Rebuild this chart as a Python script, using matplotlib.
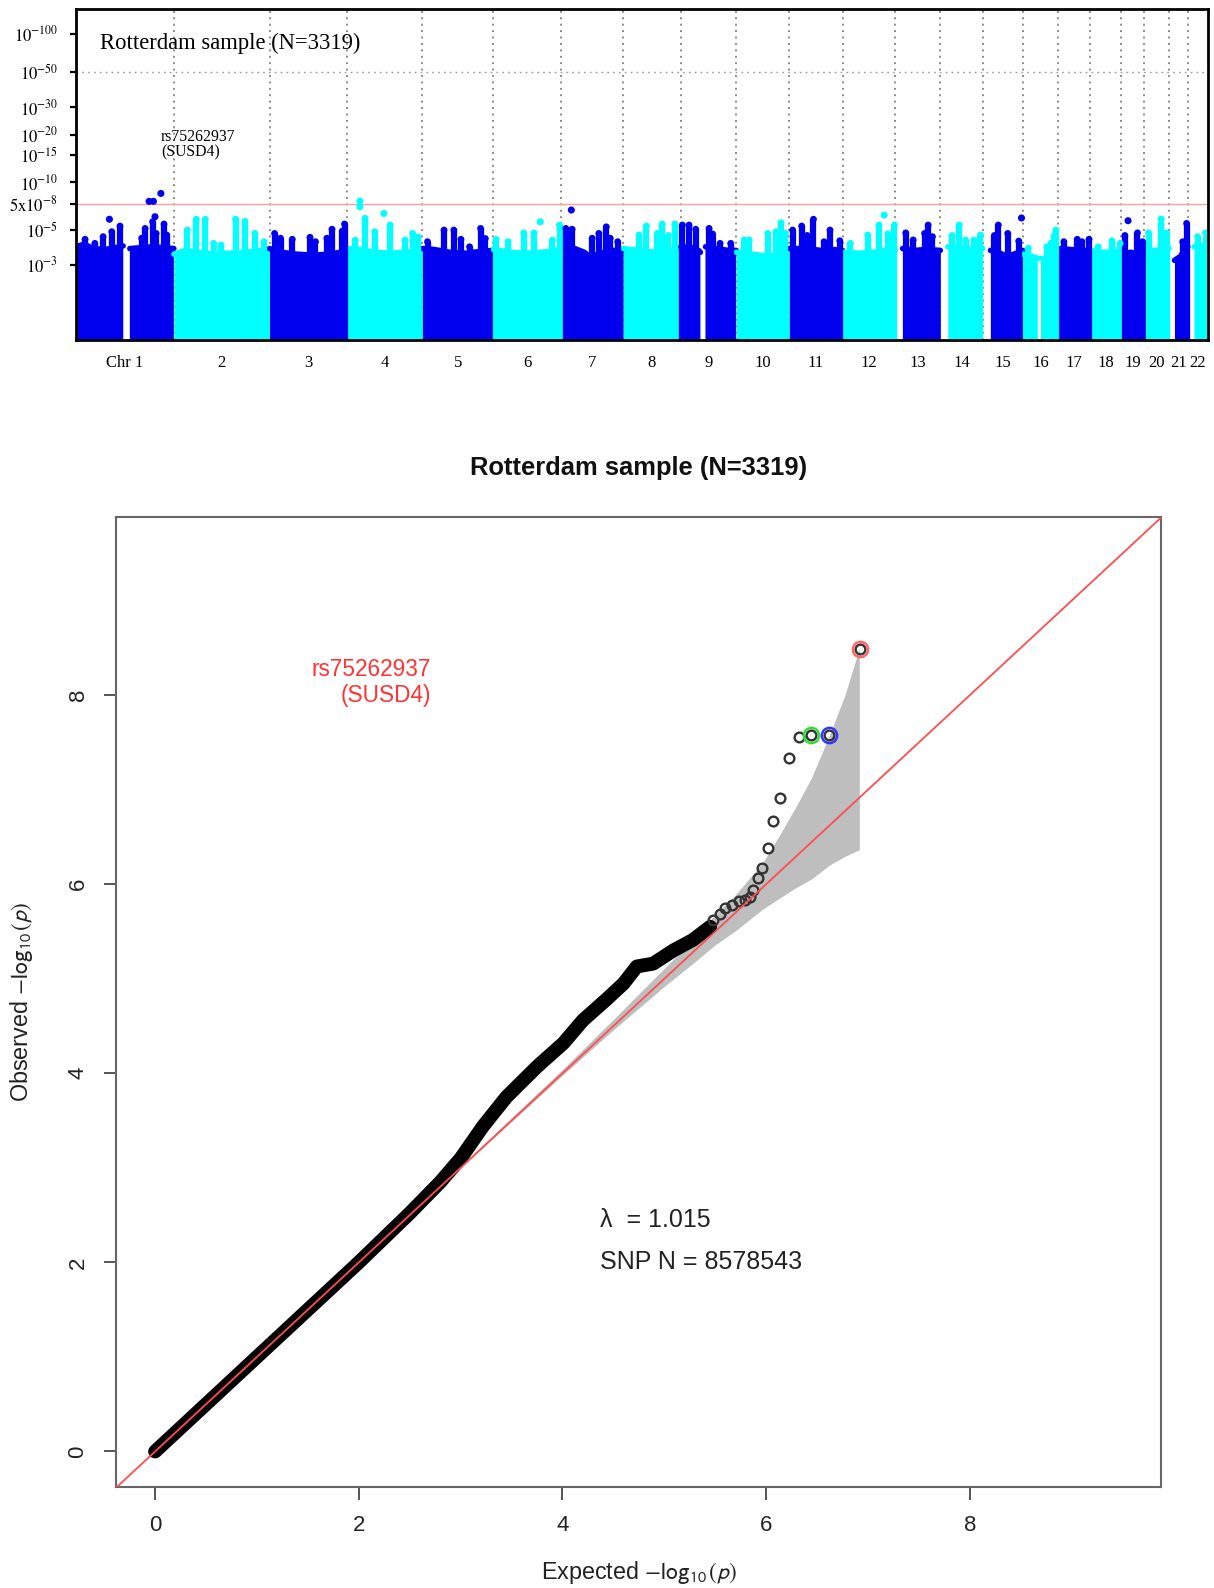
import numpy as np
import matplotlib
matplotlib.use("Agg")
import matplotlib.pyplot as plt

# ---- Manhattan data ----
# chromosome lengths in Mb (hg19)
CHR_LEN = [249.25, 243.2, 198.0, 191.15, 180.9, 171.1, 159.1, 146.4, 141.2, 135.5,
           135.0, 133.85, 115.2, 107.35, 102.5, 90.35, 81.2, 78.1, 59.1, 63.0, 48.1, 51.3]
CHR_NAMES = ["Chr 1"] + [str(i) for i in range(2, 23)]

# upper edge of the dense part of each chromosome (Mb, -log10 p); nan = no SNPs
nan = np.nan
body_pos = [
    [0, 20, 45, 75, 100, 120, 128, 137, 165, 195, 225, 249],
    [0, 30, 60, 100, 140, 180, 215, 243],
    [0, 30, 70, 110, 150, 180, 198],
    [0, 30, 70, 110, 150, 191],
    [0, 30, 70, 110, 150, 181],
    [0, 40, 80, 120, 171],
    [0, 30, 60, 75, 100, 130, 159],
    [0, 40, 80, 110, 146],
    [0, 30, 45, 50, 56, 63, 90, 120, 141],
    [0, 40, 80, 110, 135],
    [0, 40, 80, 110, 135],
    [0, 40, 80, 110, 134],
    [19, 50, 80, 115],
    [19, 50, 80, 107],
    [20, 40, 60, 80, 102],
    [0, 20, 38, 42, 46, 60, 75, 90],
    [0, 30, 60, 81],
    [0, 30, 60, 78],
    [0, 25, 45, 59],
    [0, 30, 50, 63],
    [14, 30, 40, 48],
    [16, 30, 45, 51],
]
body_top = [
    [3.9, 4.05, 3.8, 3.75, 3.85, 3.95, nan, 3.8, 3.85, 3.9, 3.85, 3.8],
    [3.5, 3.7, 3.6, 3.5, 3.55, 3.6, 3.7, 3.6],
    [3.8, 3.6, 3.5, 3.45, 3.5, 3.6, 3.7],
    [3.8, 3.75, 3.6, 3.55, 3.6, 3.7],
    [3.8, 3.75, 3.6, 3.55, 3.65, 3.7],
    [3.75, 3.6, 3.55, 3.6, 3.7],
    [3.9, 3.85, 3.6, 3.35, 3.55, 3.7, 3.7],
    [3.8, 3.7, 3.6, 3.65, 3.75],
    [3.9, 3.85, 3.7, 3.6, nan, 3.9, 3.8, 3.7, 3.7],
    [3.6, 3.5, 3.4, 3.5, 3.6],
    [3.8, 3.8, 3.7, 3.75, 3.7],
    [3.6, 3.55, 3.6, 3.7, 3.75],
    [3.8, 3.7, 3.75, 3.7],
    [3.9, 3.85, 3.75, 3.8],
    [3.7, 3.6, 3.4, 3.5, 3.7],
    [3.5, 3.4, 3.3, nan, 3.3, 3.2, 3.5, 3.7],
    [3.8, 3.75, 3.7, 3.7],
    [3.7, 3.6, 3.6, 3.7],
    [3.5, 3.6, 3.5, 3.6],
    [3.7, 3.7, 3.8, 3.8],
    [3.2, 3.4, 3.8, 3.9],
    [3.9, 4.0, 3.9, 3.9],
]

# columns of SNPs rising out of the dense part
stack_chr = [1, 1, 1, 1, 1, 1, 1, 1, 1, 1, 1,
             2, 2, 2, 2, 2, 2, 2, 2, 2,
             3, 3, 3, 3, 3, 3, 3, 3, 3,
             4, 4, 4, 4, 4, 4, 4,
             5, 5, 5, 5, 5, 5, 5,
             6, 6, 6, 6, 6, 6,
             7, 7, 7, 7, 7, 7, 7,
             8, 8, 8, 8, 8, 8,
             9, 9, 9, 9, 9, 9, 9,
             10, 10, 10, 10, 10, 10,
             11, 11, 11, 11, 11, 11, 11,
             12, 12, 12, 12, 12,
             13, 13, 13, 13, 13,
             14, 14, 14, 14, 14,
             15, 15, 15, 15,
             16, 16, 16, 16, 16,
             17, 17, 17, 17,
             18, 18, 18,
             19, 19, 19,
             20, 20, 20,
             21, 21,
             22, 22]
stack_pos = [23, 48, 69, 91, 112, 167, 176, 195, 204, 224, 231,
             34, 57, 80, 101, 120, 157, 181, 206, 229,
             13, 28, 58, 103, 117, 146, 159, 185, 191,
             20, 45, 70, 109, 147, 166, 180,
             13, 55, 80, 98, 120, 148, 160,
             7, 37, 77, 103, 150, 168,
             13, 29, 80, 97, 116, 126, 145,
             40, 59, 87, 99, 115, 131,
             4, 21, 38, 72, 81, 100, 127,
             20, 33, 80, 101, 114, 125,
             8, 31, 45, 61, 88, 103, 128,
             20, 64, 93, 115, 132,
             27, 46, 75, 84, 95,
             30, 48, 64, 85, 102,
             30, 40, 64, 92,
             14, 61, 72, 80, 84,
             14, 48, 60, 78,
             20, 55, 76,
             10, 42, 55,
             11, 43, 57,
             35, 45,
             25, 45]
stack_top = [4.35, 4.1, 4.52, 4.86, 5.28, 4.42, 5.1, 5.62, 4.74, 5.44, 4.63,
             4.98, 5.83, 5.83, 4.1, 4.0, 5.83, 5.66, 4.74, 4.2,
             4.74, 4.42, 4.35, 4.48, 4.2, 4.42, 5.04, 4.9, 5.44,
             4.3, 5.55, 4.86, 5.36, 4.31, 4.74, 4.5,
             4.2, 4.98, 4.98, 4.35, 3.9, 5.1, 4.4,
             4.35, 4.2, 4.78, 4.78, 4.3, 5.36,
             5.1, 5.04, 4.42, 4.74, 5.22, 4.42, 4.2,
             4.63, 5.28, 4.74, 5.44, 4.6, 5.44,
             5.36, 5.36, 5.04, 5.1, 4.7, 4.1, 4.1,
             4.31, 4.31, 4.74, 4.86, 5.55, 4.74,
             4.98, 5.28, 4.6, 5.83, 4.2, 4.98, 4.26,
             4.1, 4.63, 5.36, 4.7, 5.36,
             4.78, 4.31, 4.74, 5.36, 4.52,
             4.6, 5.36, 4.31, 4.3, 4.63,
             4.6, 5.36, 4.74, 4.24,
             3.82, 3.9, 4.13, 4.6, 4.98,
             4.2, 4.35, 4.2, 4.35,
             3.9, 4.26, 4.1,
             4.6, 4.78, 4.2,
             4.78, 5.4, 4.78,
             4.2, 5.49,
             4.52, 4.78]

# isolated SNPs
dot_chr = [1, 1, 1, 1, 1, 4, 4, 4, 4, 6, 7, 12, 15, 19, 20]
dot_pos = [85, 186, 197, 201, 216, 32, 32, 93, 45, 119, 27, 106, 99, 18, 43]
dot_val = [5.83, 7.57, 7.57, 6.05, 8.5, 7.6, 7.0, 6.35, 5.9, 5.62, 6.67, 6.2, 5.94, 5.71, 5.83]

GW_LINE = -np.log10(5e-8)
Y_TICKS = [3, 5, GW_LINE, 10, 15, 20, 30, 50, 100]
Y_TICKLABELS = [r"$10^{-3}$", r"$10^{-5}$", r"$5\mathrm{x}10^{-8}$", r"$10^{-10}$", r"$10^{-15}$",
                r"$10^{-20}$", r"$10^{-30}$", r"$10^{-50}$", r"$10^{-100}$"]

# ---- QQ data ----
band_x = [0, 0.5, 1.0, 1.5, 2.0, 2.5, 2.8, 3.0, 3.22, 3.45, 3.75, 4.01, 4.20, 4.43, 4.60,
          4.73, 4.89, 5.09, 5.28, 5.45]
band_y = [0, 0.5, 1.0, 1.5, 2.0, 2.52, 2.85, 3.10, 3.44, 3.75, 4.07, 4.32, 4.56, 4.78, 4.95,
          5.13, 5.16, 5.30, 5.41, 5.55]
tail_x = [5.48, 5.55, 5.60, 5.66, 5.73, 5.79, 5.84, 5.87, 5.92, 5.96, 6.02, 6.07, 6.14, 6.22,
          6.32, 6.44, 6.62, 6.92]
tail_y = [5.62, 5.69, 5.75, 5.78, 5.82, 5.83, 5.86, 5.94, 6.07, 6.17, 6.38, 6.67, 6.91, 7.34,
          7.56, 7.58, 7.58, 8.49]
ci_x = [3.0, 3.5, 4.0, 4.5, 5.0, 5.3, 5.5, 5.7, 5.97, 6.14, 6.3, 6.45, 6.63, 6.78, 6.92]
ci_upper = [3.01, 3.52, 4.03, 4.56, 5.10, 5.42, 5.67, 5.88, 6.22, 6.52, 6.82, 7.12, 7.58, 8.0, 8.49]
ci_lower = [2.99, 3.48, 3.97, 4.45, 4.91, 5.17, 5.35, 5.50, 5.73, 5.85, 5.96, 6.05, 6.20, 6.29, 6.36]
ring_x = [6.92, 6.44, 6.62]
ring_y = [8.49, 7.58, 7.58]
ring_col = ["#ff6666", "#33dd33", "#3333ff"]
LAMBDA = 1.015
N_SNP = 8578543
N_SAMPLE = 3319

BLUE = "#0000ee"
CYAN = "#00ffff"

# y axis: log of -log10(p), compressed above 1e-50
LN50 = np.log(50.0)
K_TOP = 0.81


def fwd(v):
    t = np.log(np.clip(np.asarray(v, dtype=float), 1e-6, None))
    return np.where(t > LN50, LN50 + (t - LN50) * K_TOP, t)


def inv(t):
    t = np.asarray(t, dtype=float)
    return np.exp(np.where(t > LN50, LN50 + (t - LN50) / K_TOP, t))


W, H = 1214, 1588
fig = plt.figure(figsize=(W / 100, H / 100), dpi=100)

# ================= Manhattan =================
ax1 = fig.add_axes([76 / W, 1 - 340 / H, 1132 / W, 330.7 / H])
ax1.set_yscale("function", functions=(fwd, inv))

ends = np.cumsum(CHR_LEN)
offsets = ends - np.array(CHR_LEN)

for b in ends[:-1]:
    ax1.axvline(b, color="#666666", ls=(0, (1.2, 3)), lw=1.1, zorder=1)
ax1.axhline(50, color="#999999", ls=(0, (1.2, 3)), lw=1.0, zorder=1)
ax1.axhline(GW_LINE, color="#ff9c9c", lw=1.0, zorder=1.5)

for i in range(22):
    col = BLUE if i % 2 == 0 else CYAN
    x = offsets[i] + np.array(body_pos[i], dtype=float)
    y = np.array(body_top[i], dtype=float)
    ax1.fill_between(x, 1, y, color=col, lw=0, zorder=2)
    ax1.plot(x, y, color=col, lw=4, solid_capstyle="round", zorder=2)

sc = np.array(stack_chr) - 1
sx = offsets[sc] + np.array(stack_pos, dtype=float)
scol = [BLUE if c % 2 == 0 else CYAN for c in sc]
ax1.vlines(sx, 1, stack_top, colors=scol, lw=4.5, zorder=3)
ax1.scatter(sx, stack_top, s=24, c=scol, lw=0, zorder=3)

dc = np.array(dot_chr) - 1
dx = offsets[dc] + np.array(dot_pos, dtype=float)
dcol = [BLUE if c % 2 == 0 else CYAN for c in dc]
ax1.scatter(dx, dot_val, s=26, c=dcol, lw=0, zorder=4)

ax1.set_xlim(0, ends[-1])
ax1.set_ylim(1, 155)
ax1.set_yticks(Y_TICKS)
ax1.set_yticklabels(Y_TICKLABELS, math_fontfamily="stix", fontsize=12)
ax1.yaxis.set_minor_locator(matplotlib.ticker.NullLocator())
ax1.set_xticks(offsets + np.array(CHR_LEN) / 2)
ax1.set_xticklabels(CHR_NAMES, family="Liberation Serif", fontsize=12)
ax1.tick_params(axis="y", direction="out", length=4, width=1.6, pad=9, color="black")
ax1.tick_params(axis="x", length=0, pad=11)
for sp in ax1.spines.values():
    sp.set_linewidth(2.0)
    sp.set_color("black")
    sp.set_zorder(6)

top_i = int(np.argmax(dot_val))
ax1.text(dx[top_i], 17.3, "rs75262937\n(SUSD4)", family="Liberation Serif", fontsize=11.3,
         ha="left", va="center", linespacing=1.0, zorder=5)
ax1.text(0.021, 0.898, "Rotterdam sample (N=%d)" % N_SAMPLE, transform=ax1.transAxes,
         family="Liberation Serif", fontsize=16.3, ha="left", va="center")

# ================= QQ plot =================
SANS = "Liberation Sans"
TXT = "#222222"
ax2 = fig.add_axes([116.4 / W, 1 - 1487.4 / H, 1044.9 / W, 970 / H])
lim = (-0.38, 9.88)

ax2.fill(np.r_[ci_x, ci_x[::-1]], np.r_[ci_upper, ci_lower[::-1]],
         color="#bebebe", lw=0, zorder=1)
ax2.plot(band_x, band_y, color="black", lw=10, solid_capstyle="round",
         solid_joinstyle="round", zorder=2)
ax2.plot(tail_x, tail_y, "o", mfc="none", mec="#333333", ms=7, mew=1.7, zorder=3)
for rx, ry, rc in zip(ring_x, ring_y, ring_col):
    ax2.plot(rx, ry, "o", mfc="none", mec=rc, ms=11, mew=1.8, zorder=4)
ax2.plot(lim, lim, color="#ff4d4d", lw=1.3, zorder=5)

ax2.set_xlim(lim)
ax2.set_ylim(lim)
ax2.set_xticks([0, 2, 4, 6, 8])
ax2.set_yticks([0, 2, 4, 6, 8])
ax2.tick_params(direction="out", length=9, width=1.4, color="#555555",
                labelsize=16, labelcolor=TXT, pad=11)
ax2.tick_params(axis="y", labelrotation=90)
for lab in ax2.get_xticklabels() + ax2.get_yticklabels():
    lab.set_family(SANS)
for lab in ax2.get_yticklabels():
    lab.set_va("center")
for sp in ax2.spines.values():
    sp.set_linewidth(1.5)
    sp.set_color("#666666")

ax2.text(2.71, 8.13, "rs75262937\n(SUSD4)", color="#ff3333", family=SANS, fontsize=16.3,
         ha="right", va="center", multialignment="right", linespacing=1.15)
ax2.text(4.37, 2.45, "\u03bb  = %.3f" % LAMBDA, color=TXT, family=SANS, fontsize=18,
         ha="left", va="center")
ax2.text(4.37, 2.0, "SNP N = %d" % N_SNP, color=TXT, family=SANS, fontsize=18,
         ha="left", va="center")

fig.text(638.7 / W, 1 - 468 / H, "Rotterdam sample (N=%d)" % N_SAMPLE, family=SANS,
         fontsize=18.4, fontweight="bold", color="#111111", ha="center", va="center")
fig.text(638.7 / W, 1 - 1572 / H, r"Expected $-\log_{10}(p)$", family=SANS, fontsize=16.8,
         color=TXT, ha="center", va="center", math_fontfamily="stixsans")
fig.text(22 / W, 1 - 1002 / H, r"Observed $-\log_{10}(p)$", family=SANS, fontsize=16.8,
         color=TXT, ha="center", va="center", rotation=90, math_fontfamily="stixsans")

fig.savefig("out.png", dpi=100)
